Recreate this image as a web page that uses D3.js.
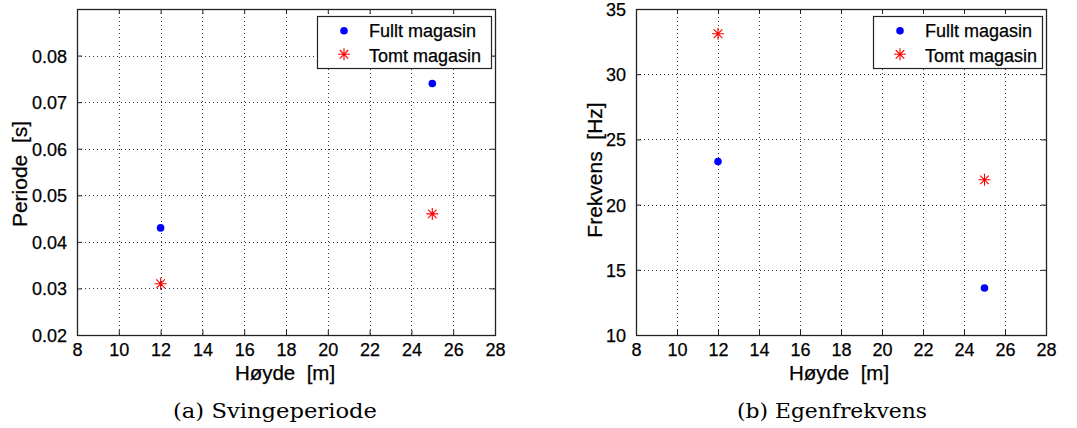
<!DOCTYPE html>
<html>
<head>
<meta charset="utf-8">
<script src="https://cdn.jsdelivr.net/npm/d3@7"></script>
<style>
  html, body { margin: 0; padding: 0; background: #fff; }
  svg { display: block; }
  text { font-family: "Liberation Sans", Arial, sans-serif; fill: #000; white-space: pre; }
  .sans { stroke: #000; stroke-width: 0.25; }
  .caption { font-family: "DejaVu Serif", "Liberation Serif", serif; }
</style>
</head>
<body>
<svg id="chart" width="1077" height="428"></svg>
<script>
// ---- data ----
const heights = [12, 25];
const xTicks = [8, 10, 12, 14, 16, 18, 20, 22, 24, 26, 28];
const seriesNames = ["Fullt magasin", "Tomt magasin"];

const periodFull = [0.043, 0.074];
const periodEmpty = [0.031, 0.046];
const periodTicks = [0.02, 0.03, 0.04, 0.05, 0.06, 0.07, 0.08];

const freqFull = [23.3, 13.6];
const freqEmpty = [33.1, 21.9];
const freqTicks = [10, 15, 20, 25, 30, 35];

const svg = d3.select("#chart");

function drawPanel(cfg) {
  const g = svg.append("g");
  const x = d3.scaleLinear().domain([8, 28]).range([cfg.left, cfg.right]);
  const y = d3.scaleLinear().domain(cfg.yDomain).range([cfg.bottom, cfg.top]);
  const W = cfg.right - cfg.left, H = cfg.bottom - cfg.top;

  // grid
  g.append("g").selectAll("line").data(xTicks.slice(1, -1)).join("line")
    .attr("x1", d => Math.round(x(d)) + 0.5).attr("x2", d => Math.round(x(d)) + 0.5)
    .attr("y1", cfg.top).attr("y2", cfg.bottom)
    .attr("stroke", "#333").attr("stroke-width", 1).attr("stroke-dasharray", "1,3");
  g.append("g").selectAll("line").data(cfg.yTicks.filter(t => t > cfg.yDomain[0] && t < cfg.yDomain[1])).join("line")
    .attr("y1", d => Math.round(y(d)) + 0.5).attr("y2", d => Math.round(y(d)) + 0.5)
    .attr("x1", cfg.left).attr("x2", cfg.right)
    .attr("stroke", "#333").attr("stroke-width", 1).attr("stroke-dasharray", "1,3");

  // axes (inward ticks on all sides)
  const tl = 5;
  const xb = d3.axisBottom(x).tickValues(xTicks).tickSizeInner(-tl).tickSizeOuter(0).tickPadding(8).tickFormat(d3.format("d"));
  const xt = d3.axisTop(x).tickValues(xTicks).tickSizeInner(-tl).tickSizeOuter(0).tickFormat("");
  const yl = d3.axisLeft(y).tickValues(cfg.yTicks).tickSizeInner(-tl).tickSizeOuter(0).tickPadding(10).tickFormat(cfg.fmt);
  const yr = d3.axisRight(y).tickValues(cfg.yTicks).tickSizeInner(-tl).tickSizeOuter(0).tickFormat("");

  const gx = g.append("g").attr("transform", `translate(0,${cfg.bottom})`).call(xb);
  g.append("g").attr("transform", `translate(0,${cfg.top})`).call(xt);
  const gy = g.append("g").attr("transform", `translate(${cfg.left},0)`).call(yl);
  g.append("g").attr("transform", `translate(${cfg.right},0)`).call(yr);
  g.selectAll(".domain").remove();
  g.selectAll(".tick line").attr("stroke", "#222");
  g.selectAll(".tick text").attr("font-size", 18).attr("class", "sans")
    .attr("font-family", '"Liberation Sans", Arial, sans-serif').attr("fill", "#000");
  gx.selectAll(".tick text").attr("dy", "0.71em");
  gy.selectAll(".tick text").attr("dy", "0.36em");

  // box
  g.append("rect").attr("x", cfg.left + 0.5).attr("y", cfg.top + 0.5)
    .attr("width", W).attr("height", H)
    .attr("fill", "none").attr("stroke", "#222").attr("stroke-width", 1.3);

  // labels
  g.append("text").attr("class", "sans").attr("x", (cfg.left + cfg.right) / 2 + cfg.xlabelDx).attr("y", 379.5)
    .attr("text-anchor", "middle").attr("font-size", 20.5).text("Høyde  [m]");
  g.append("text").attr("class", "sans")
    .attr("transform", `translate(${cfg.ylabelX},${cfg.ylabelY}) rotate(-90)`)
    .attr("text-anchor", "middle").attr("font-size", 21).text(cfg.ylabel);

  // caption
  g.append("text").attr("class", "caption")
    .attr("x", cfg.captionX).attr("y", 418).attr("text-anchor", "middle")
    .attr("font-size", 20).attr("textLength", cfg.captionW).attr("lengthAdjust", "spacingAndGlyphs")
    .text(cfg.caption);

  // markers
  const circles = g.append("g");
  circles.selectAll("circle").data(heights.map((h, i) => [h, cfg.full[i]])).join("circle")
    .attr("cx", d => x(d[0])).attr("cy", d => y(d[1])).attr("r", 3.8).attr("fill", "#0000ff");
  const stars = g.append("g");
  const starPath = "M-6,0H6M0,-6V6M-4.3,-4.3L4.3,4.3M-4.3,4.3L4.3,-4.3";
  stars.selectAll("path").data(heights.map((h, i) => [h, cfg.empty[i]])).join("path")
    .attr("transform", d => `translate(${x(d[0])},${y(d[1])})`)
    .attr("d", starPath).attr("stroke", "#ff0000").attr("stroke-width", 1.1).attr("fill", "none");

  // legend
  const lg = g.append("g");
  lg.append("rect").attr("x", cfg.legX + 0.5).attr("y", 16.5).attr("width", cfg.legW).attr("height", 52)
    .attr("fill", "#fff").attr("stroke", "#222").attr("stroke-width", 1.2);
  lg.append("circle").attr("cx", cfg.legX + 27).attr("cy", 30.7).attr("r", 3.8).attr("fill", "#0000ff");
  lg.append("path").attr("transform", `translate(${cfg.legX + 27},54.3)`).attr("d", starPath)
    .attr("stroke", "#ff0000").attr("stroke-width", 1.1).attr("fill", "none");
  lg.selectAll("text.leg").data(seriesNames).join("text").attr("class", "leg sans")
    .attr("x", cfg.legX + 52).attr("y", (d, i) => 37 + i * 24.5)
    .attr("font-size", 18).text(d => d);
}

drawPanel({
  left: 77, right: 495, top: 9, bottom: 335,
  yDomain: [0.02, 0.09], yTicks: periodTicks, fmt: d3.format(".2f"),
  full: periodFull, empty: periodEmpty,
  ylabel: "Periode  [s]", ylabelX: 26.5, ylabelY: 174, xlabelDx: -1,
  caption: "(a) Svingeperiode", captionX: 275, captionW: 204,
  legX: 317, legW: 174
});

drawPanel({
  left: 636, right: 1046, top: 9, bottom: 335,
  yDomain: [10, 35], yTicks: freqTicks, fmt: d3.format("d"),
  full: freqFull, empty: freqEmpty,
  ylabel: "Frekvens  [Hz]", ylabelX: 602, ylabelY: 170, xlabelDx: -2,
  caption: "(b) Egenfrekvens", captionX: 832, captionW: 190,
  legX: 873, legW: 169
});
</script>
</body>
</html>
